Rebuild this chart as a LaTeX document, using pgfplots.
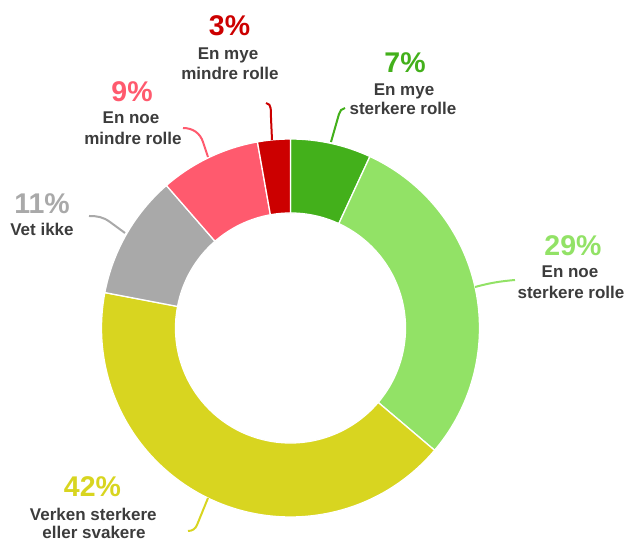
\documentclass[border=0pt]{standalone}
\usepackage{pgfplots}
\pgfplotsset{compat=1.18}
\usepackage{pgfplotstable}
\usepackage{fontspec}
\setmainfont{Liberation Sans}
\definecolor{cA}{HTML}{43B01B}
\definecolor{cB}{HTML}{92E266}
\definecolor{cC}{HTML}{D8D520}
\definecolor{cD}{HTML}{A9A9A9}
\definecolor{cE}{HTML}{FF5A6E}
\definecolor{cF}{HTML}{CC0000}
\definecolor{lab}{HTML}{3C3C3C}

% shares in percent, clockwise from 12 o'clock
\pgfplotstableread{
idx value
0 6.9
1 29.3
2 41.8
3 10.6
4 8.6
5 2.8
}\slices

\newcommand\setstart[2]{\expandafter\xdef\csname sa#1\endcsname{#2}}
\newcommand\Sa[1]{\csname sa#1\endcsname}

\newcommand\slice[3]{%
  \fill[#3, draw=white, line width=1.3bp]
    (axis cs:{290.5+189*cos(90-3.6*#1)},{214+189*sin(90-3.6*#1)})
    arc[start angle={90-3.6*#1}, end angle={90-3.6*#2}, radius=189bp]
    -- (axis cs:{290.5+115*cos(90-3.6*#2)},{214+115*sin(90-3.6*#2)})
    arc[start angle={90-3.6*#2}, end angle={90-3.6*#1}, radius=115bp]
    -- cycle;}

\newcommand\pct[4]{\node[anchor=base, inner sep=0pt, text=#3,
  font=\bfseries\fontsize{28.5bp}{30bp}\selectfont] at (axis cs:#1,{542-#2}) {#4};}
\newcommand\lab[3]{\node[anchor=base, inner sep=0pt, text=lab,
  font=\bfseries\fontsize{17bp}{20bp}\selectfont] at (axis cs:#1,{542-#2}) {#3};}

\begin{document}%
\setstart{0}{0}%
\def\cum{0}%
\pgfplotsforeachungrouped \i in {0,...,5}{%
  \pgfplotstablegetelem{\i}{value}\of\slices
  \pgfmathsetmacro\cum{\cum+\pgfplotsretval}%
  \pgfmathtruncatemacro\j{\i+1}%
  \setstart{\j}{\cum}%
}%
\begin{tikzpicture}
\begin{axis}[at={(0,0)}, anchor=south west, scale only axis,
  width=627bp, height=542bp, xmin=0, xmax=627, ymin=0, ymax=542,
  hide axis, clip=false]
\slice{\Sa{0}}{\Sa{1}}{cA}
\slice{\Sa{1}}{\Sa{2}}{cB}
\slice{\Sa{2}}{\Sa{3}}{cC}
\slice{\Sa{3}}{\Sa{4}}{cD}
\slice{\Sa{4}}{\Sa{5}}{cE}
\slice{\Sa{5}}{\Sa{6}}{cF}

% leader lines
\draw[cA, line width=2bp] (axis cs:345,{542-108}) to[out=190,in=75] (axis cs:339,{542-114}) -- (axis cs:331,{542-142});
\draw[cF, line width=2bp] (axis cs:266,{542-103}) to[out=-5,in=93] (axis cs:271,{542-118}) -- (axis cs:272,{542-140});
\draw[cE, line width=2bp] (axis cs:183,{542-128}) to[out=0,in=108] (axis cs:203,{542-142}) -- (axis cs:208,{542-157});
\draw[cD, line width=2bp] (axis cs:89,{542-216}) to[out=0,in=144] (axis cs:110,{542-222}) -- (axis cs:125,{542-233});
\draw[cB, line width=2bp] (axis cs:515,{542-280}) to[out=185,in=15] (axis cs:475,{542-287});
\draw[cC, line width=2bp] (axis cs:208,{542-498}) -- (axis cs:197,{542-525}) to[out=-112,in=0] (axis cs:188,{542-531});

% labels
\pct{229.5}{36}{cF}{3\%}
\lab{228}{60}{En mye}
\lab{230}{80}{mindre rolle}

\pct{405}{72.3}{cA}{7\%}
\lab{404}{95.3}{En mye}
\lab{403}{115}{sterkere rolle}

\pct{132}{101.7}{cE}{9\%}
\lab{131}{124}{En noe}
\lab{133}{145}{mindre rolle}

\pct{42}{214}{cD}{11\%}
\lab{42}{236}{Vet ikke}

\pct{573}{256}{cB}{29\%}
\lab{570}{278}{En noe}
\lab{571}{299}{sterkere rolle}

\pct{92.5}{497}{cC}{42\%}
\lab{93.3}{520.7}{Verken sterkere}
\lab{94}{538.5}{eller svakere}
\end{axis}
\pgfresetboundingbox
\path[use as bounding box] (0,0) rectangle (627bp,542bp);
\end{tikzpicture}%
\end{document}
